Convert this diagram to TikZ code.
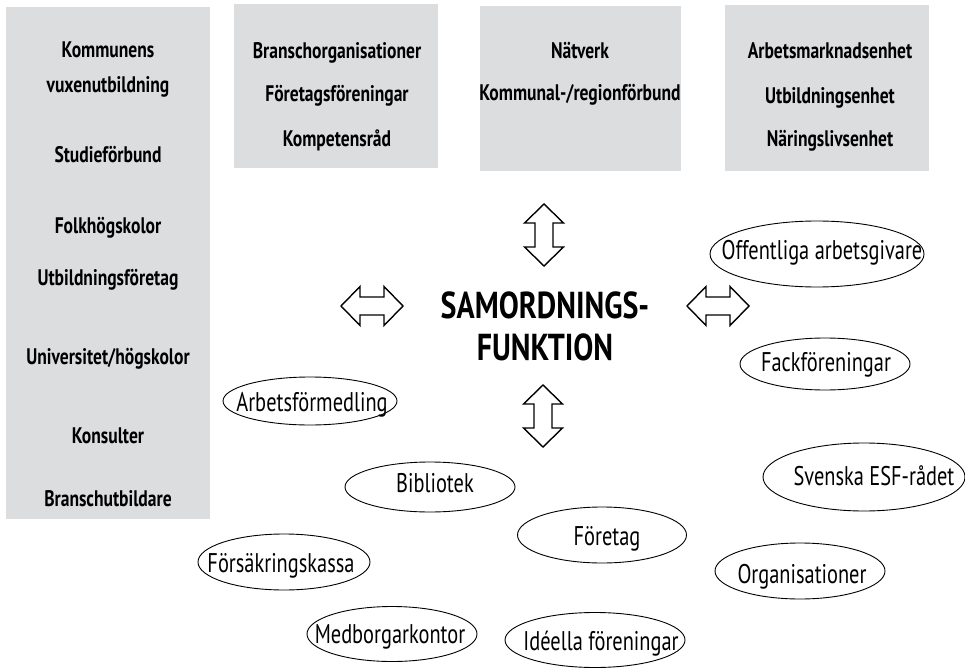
\documentclass[tikz,border=0pt]{standalone}
\usepackage{fontspec}
\setmainfont{PT Sans}[FakeStretch=0.755]
\newfontfamily\boldf{PT Sans Bold}[FakeStretch=0.78]
\newfontfamily\bigf{PT Sans Bold}[FakeStretch=0.8]
\usetikzlibrary{shapes.geometric}
\definecolor{boxgray}{RGB}{220,221,223}
\tikzset{
  graybox/.style={fill=boxgray,draw=none,anchor=north west,inner sep=0},
  boxtxt/.style={font=\fontsize{22.5}{22.5}\boldf,inner sep=0,text height=15.5pt,text depth=0pt},
  bigtxt/.style={font=\fontsize{37.5}{37.5}\bigf,inner sep=0,text height=26pt,text depth=0pt},
  oval/.style={ellipse,draw,line width=0.9pt,inner sep=0},
  ovaltxt/.style={font=\fontsize{27}{27}\selectfont,inner sep=0,text height=19pt,text depth=0pt},
  dblarr/.pic={\draw[line width=1.4pt,line join=miter]
    (-31,0) -- (-12,-19.5) -- (-12,-9) -- (12,-9) -- (12,-19.5) -- (31,0)
    -- (12,19.5) -- (12,9) -- (-12,9) -- (-12,19.5) -- cycle;}
}
\begin{document}
\begin{tikzpicture}[x=1pt,y=-1pt]
\path[use as bounding box] (0,0) rectangle (965,668);
% gray boxes
\node[graybox,minimum width=204pt,minimum height=512pt] (col) at (6,7) {};
\node[graybox,minimum width=204pt,minimum height=164pt] (b2) at (234,4) {};
\node[graybox,minimum width=201pt,minimum height=165pt] (b3) at (480,6) {};
\node[graybox,minimum width=204pt,minimum height=166pt] (b4) at (725,5) {};
% left column text
\node[boxtxt] (c1) at (108,50) {Kommunens};
\node[boxtxt] (c2) at (108,85) {vuxenutbildning};
\node[boxtxt] (c3) at (108,155) {Studieförbund};
\node[boxtxt] (c4) at (108,226) {Folkhögskolor};
\node[boxtxt] (c5) at (108,278) {Utbildningsföretag};
\node[boxtxt] (c6) at (108,357) {Universitet/högskolor};
\node[boxtxt] (c7) at (108,436) {Konsulter};
\node[boxtxt] (c8) at (108,499) {Branschutbildare};
% box 2
\node[boxtxt] (d1) at (337,51) {Branschorganisationer};
\node[boxtxt] (d2) at (337,94) {Företagsföreningar};
\node[boxtxt] (d3) at (337,139) {Kompetensråd};
% box 3
\node[boxtxt] (e1) at (580,51) {Nätverk};
\node[boxtxt] (e2) at (580,93) {Kommunal-/regionförbund};
% box 4
\node[boxtxt] (f1) at (830,51) {Arbetsmarknadsenhet};
\node[boxtxt] (f2) at (830,96) {Utbildningsenhet};
\node[boxtxt] (f3) at (830,139) {Näringslivsenhet};
% centre
\node[bigtxt] (s1) at (545,305) {SAMORDNINGS-};
\node[bigtxt] (s2) at (545,347) {FUNKTION};
% arrows
\pic (al) at (372,306) {dblarr};
\pic (ar) at (718,306) {dblarr};
\pic[rotate=90] (au) at (544,235) {dblarr};
\pic[rotate=90] (ad) at (543,416) {dblarr};
% ellipses
\node[oval,minimum width=214pt,minimum height=66pt] (o1) at (817,254) {};
\node[ovaltxt] at (822,250) {Offentliga arbetsgivare};
\node[oval,minimum width=170pt,minimum height=52pt] (o2) at (825,364) {};
\node[ovaltxt] at (826,362) {Fackföreningar};
\node[oval,minimum width=202pt,minimum height=68pt] (o3) at (864,477) {};
\node[ovaltxt] at (874,476) {Svenska ESF-rådet};
\node[oval,minimum width=170pt,minimum height=56pt] (o4) at (800,571) {};
\node[ovaltxt] at (802,574) {Organisationer};
\node[oval,minimum width=169pt,minimum height=56pt] (o5) at (602,535) {};
\node[ovaltxt] at (607,536) {Företag};
\node[oval,minimum width=180pt,minimum height=55pt] (o6) at (595,640) {};
\node[ovaltxt] at (601,641) {Idéella föreningar};
\node[oval,minimum width=170pt,minimum height=55pt] (o7) at (392,634) {};
\node[ovaltxt] at (390,634) {Medborgarkontor};
\node[oval,minimum width=172pt,minimum height=56pt] (o8) at (284,562) {};
\node[ovaltxt] at (281,563) {Försäkringskassa};
\node[oval,minimum width=170pt,minimum height=50pt] (o9) at (430,487) {};
\node[ovaltxt] at (435,483) {Bibliotek};
\node[oval,minimum width=174pt,minimum height=48pt] (o10) at (310,401) {};
\node[ovaltxt] at (312,402) {Arbetsförmedling};
\end{tikzpicture}
\end{document}
